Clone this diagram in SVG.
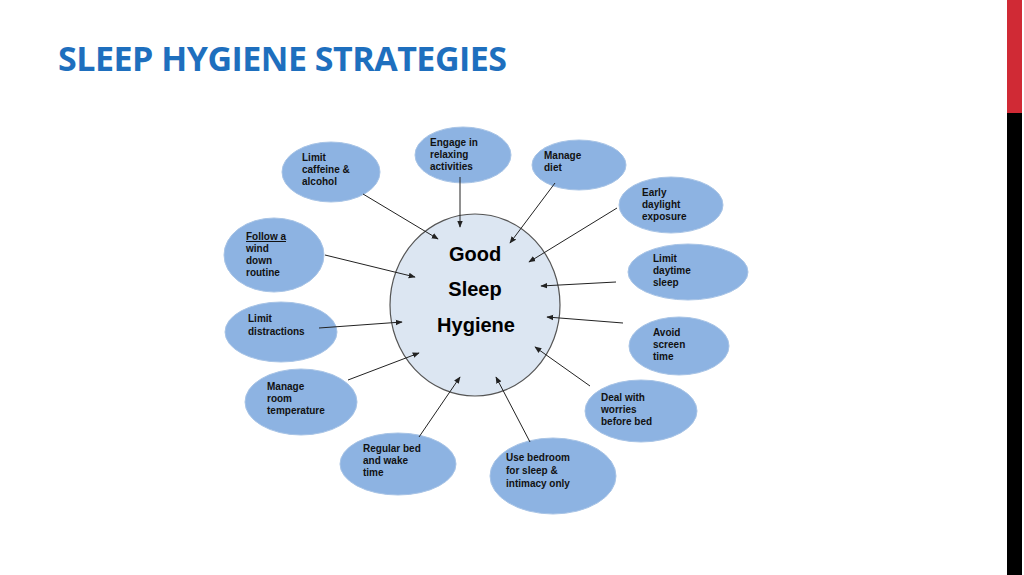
<svg xmlns="http://www.w3.org/2000/svg" width="1024" height="575" viewBox="0 0 1024 575">
<style>
.n{fill:#8db3e2;stroke:#a8c4e6;stroke-width:1}
.t{font-family:"Liberation Sans",Arial,sans-serif;font-weight:bold;font-size:10px;fill:#111}
.c{font-family:"Liberation Sans",Arial,sans-serif;font-weight:bold;font-size:20px;fill:#000;text-anchor:middle}
.e line{stroke:#222;stroke-width:1;marker-end:url(#a)}
</style>
<defs><marker id="a" viewBox="0 0 10 10" refX="9" refY="5" markerWidth="7" markerHeight="7" orient="auto"><path d="M0,1 L10,5 L0,9 z" fill="#222"/></marker></defs>
<rect width="1024" height="575" fill="#fff"/>
<rect x="1007" y="0" width="15" height="113" fill="#d02a35"/>
<rect x="1007" y="113" width="15" height="462" fill="#000"/>
<text x="58" y="71" font-family="'Open Sans','Noto Sans',sans-serif" font-weight="bold" font-size="34" fill="#1e6fbe" letter-spacing="-0.5">SLEEP HYGIENE STRATEGIES</text>
<g id="center"><ellipse cx="475" cy="305" rx="85" ry="91" fill="#dce6f2" stroke="#555" stroke-width="1.2"/>
<text class="c" x="475" y="261">Good</text><text class="c" x="475" y="296">Sleep</text><text class="c" x="476" y="332">Hygiene</text></g>
<g id="caffeine"><ellipse class="n" cx="331" cy="172" rx="49" ry="30"/><text class="t" x="302" y="161">Limit<tspan x="302" dy="12">caffeine &amp;</tspan><tspan x="302" dy="12">alcohol</tspan></text></g>
<g id="engage"><ellipse class="n" cx="463" cy="155" rx="48" ry="28"/><text class="t" x="430" y="146">Engage in<tspan x="430" dy="12">relaxing</tspan><tspan x="430" dy="12">activities</tspan></text></g>
<g id="diet"><ellipse class="n" cx="579" cy="165" rx="47" ry="25"/><text class="t" x="544" y="159">Manage<tspan x="544" dy="12">diet</tspan></text></g>
<g id="daylight"><ellipse class="n" cx="671" cy="205" rx="52" ry="28"/><text class="t" x="642" y="196">Early<tspan x="642" dy="12">daylight</tspan><tspan x="642" dy="12">exposure</tspan></text></g>
<g id="winddown"><ellipse class="n" cx="274" cy="255" rx="50" ry="37"/><text class="t" x="246" y="240"><tspan text-decoration="underline">Follow a</tspan><tspan x="246" dy="12">wind</tspan><tspan x="246" dy="12">down</tspan><tspan x="246" dy="12">routine</tspan></text></g>
<g id="daytime"><ellipse class="n" cx="688" cy="272" rx="60" ry="28"/><text class="t" x="653" y="262">Limit<tspan x="653" dy="12">daytime</tspan><tspan x="653" dy="12">sleep</tspan></text></g>
<g id="distractions"><ellipse class="n" cx="281" cy="332" rx="56" ry="30"/><text class="t" x="248" y="322">Limit<tspan x="248" dy="13">distractions</tspan></text></g>
<g id="screen"><ellipse class="n" cx="679" cy="346" rx="50" ry="29"/><text class="t" x="653" y="336">Avoid<tspan x="653" dy="12">screen</tspan><tspan x="653" dy="12">time</tspan></text></g>
<g id="room"><ellipse class="n" cx="301" cy="402" rx="56" ry="33"/><text class="t" x="267" y="390">Manage<tspan x="267" dy="12">room</tspan><tspan x="267" dy="12">temperature</tspan></text></g>
<g id="worries"><ellipse class="n" cx="641" cy="411" rx="56" ry="31"/><text class="t" x="601" y="401">Deal with<tspan x="601" dy="12">worries</tspan><tspan x="601" dy="12">before bed</tspan></text></g>
<g id="regular"><ellipse class="n" cx="398" cy="464" rx="58" ry="31"/><text class="t" x="363" y="452">Regular bed<tspan x="363" dy="12">and wake</tspan><tspan x="363" dy="12">time</tspan></text></g>
<g id="bedroom"><ellipse class="n" cx="553" cy="476" rx="63" ry="38"/><text class="t" x="506" y="461">Use bedroom<tspan x="506" dy="13">for sleep &amp;</tspan><tspan x="506" dy="13">intimacy only</tspan></text></g>
<g id="connectors" class="e">
<line x1="363" y1="194" x2="438" y2="239"/>
<line x1="460" y1="177" x2="460" y2="227"/>
<line x1="555" y1="183" x2="510" y2="243"/>
<line x1="617" y1="208" x2="529" y2="262"/>
<line x1="325" y1="255" x2="415" y2="277"/>
<line x1="616" y1="282" x2="541" y2="286"/>
<line x1="319" y1="328" x2="402" y2="322"/>
<line x1="623" y1="323" x2="547" y2="317"/>
<line x1="348" y1="380" x2="419" y2="353"/>
<line x1="590" y1="386" x2="535" y2="347"/>
<line x1="419" y1="437" x2="460" y2="377"/>
<line x1="530" y1="442" x2="496" y2="377"/>
</g>
</svg>
